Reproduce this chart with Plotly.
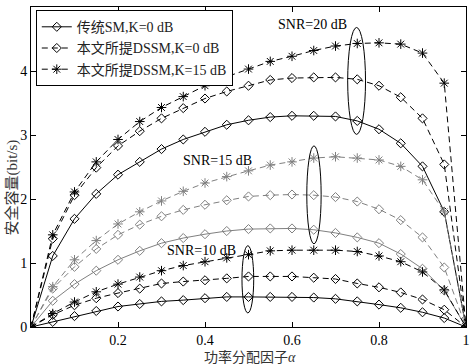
import plotly.graph_objects as go

alpha = [0, 0.05, 0.1, 0.15, 0.2, 0.25, 0.3, 0.35, 0.4, 0.45, 0.5,
         0.55, 0.6, 0.65, 0.7, 0.75, 0.8, 0.85, 0.9, 0.95, 1.0]

sm10 = [0, 0.08, 0.17, 0.25, 0.32, 0.36, 0.40, 0.42, 0.45, 0.47, 0.47,
        0.47, 0.47, 0.46, 0.44, 0.40, 0.35, 0.30, 0.23, 0.14, 0]
dssm10_k0 = [0, 0.19, 0.34, 0.45, 0.53, 0.60, 0.68, 0.71, 0.73, 0.76, 0.79,
             0.79, 0.79, 0.77, 0.75, 0.68, 0.62, 0.54, 0.43, 0.27, 0]
dssm10_k15 = [0, 0.21, 0.39, 0.55, 0.67, 0.78, 0.88, 0.96, 1.02, 1.08, 1.13,
              1.19, 1.20, 1.20, 1.20, 1.18, 1.11, 1.02, 0.86, 0.58, 0]

sm15 = [0, 0.41, 0.67, 0.88, 1.05, 1.19, 1.31, 1.39, 1.45, 1.50, 1.53,
        1.54, 1.54, 1.52, 1.47, 1.40, 1.31, 1.14, 0.91, 0.57, 0]
dssm15_k0 = [0, 0.60, 0.94, 1.22, 1.44, 1.60, 1.73, 1.83, 1.91, 1.98, 2.04,
             2.06, 2.07, 2.06, 2.03, 1.96, 1.84, 1.67, 1.40, 0.93, 0]
dssm15_k15 = [0, 0.63, 1.05, 1.35, 1.61, 1.80, 1.97, 2.12, 2.25, 2.35, 2.44,
              2.53, 2.58, 2.64, 2.66, 2.64, 2.61, 2.51, 2.30, 1.80, 0]

sm20 = [0, 1.11, 1.69, 2.08, 2.38, 2.58, 2.78, 2.93, 3.05, 3.16, 3.23,
        3.28, 3.30, 3.30, 3.29, 3.22, 3.09, 2.87, 2.51, 1.80, 0]
dssm20_k0 = [0, 1.38, 2.06, 2.49, 2.83, 3.06, 3.26, 3.42, 3.57, 3.68, 3.77,
             3.86, 3.89, 3.90, 3.90, 3.87, 3.77, 3.59, 3.26, 2.54, 0]
dssm20_k15 = [0, 1.44, 2.11, 2.58, 2.93, 3.21, 3.43, 3.60, 3.77, 3.91, 4.03,
              4.15, 4.23, 4.32, 4.39, 4.43, 4.44, 4.42, 4.28, 3.81, 0]

legend_names = ["传统SM,K=0 dB", "本文所提DSSM,K=0 dB", "本文所提DSSM,K=15 dB"]
x_ticks = [0.2, 0.4, 0.6, 0.8, 1]
x_tick_labels = ["0.2", "0.4", "0.6", "0.8", "1"]
y_ticks = [0, 1, 2, 3, 4, 5]

snr_labels = ["SNR=20 dB", "SNR=15 dB", "SNR=10 dB"]
snr_label_x = [0.646, 0.429, 0.392]
snr_label_y = [4.72, 2.60, 1.20]
ell_x0 = [0.728, 0.634, 0.485]
ell_x1 = [0.769, 0.667, 0.512]
ell_y0 = [3.01, 1.30, 0.22]
ell_y1 = [4.68, 2.83, 1.27]

FONT = "Liberation Serif, Times New Roman, Noto Sans CJK SC, serif"
BLACK = "#000000"
GRAY = "#808080"

fig = go.Figure()

groups = [
    (sm20, dssm20_k0, dssm20_k15, BLACK, True),
    (sm15, dssm15_k0, dssm15_k15, GRAY, False),
    (sm10, dssm10_k0, dssm10_k15, BLACK, False),
]
for sm, k0, k15, col, show in groups:
    fig.add_trace(go.Scatter(
        x=alpha, y=sm, mode="lines+markers", name=legend_names[0],
        showlegend=show, legendrank=1,
        line=dict(color=col, width=1),
        marker=dict(symbol="diamond-open", size=7, color=col,
                    line=dict(width=1, color=col))))
    fig.add_trace(go.Scatter(
        x=alpha, y=k0, mode="lines+markers", name=legend_names[1],
        showlegend=show, legendrank=2,
        line=dict(color=col, width=1, dash="6px,4px"),
        marker=dict(symbol="diamond-open", size=7, color=col,
                    line=dict(width=1, color=col))))
    fig.add_trace(go.Scatter(
        x=alpha, y=k15, mode="lines+markers", name=legend_names[2],
        showlegend=show, legendrank=3,
        line=dict(color=col, width=1, dash="6px,4px"),
        marker=dict(symbol="asterisk-open", size=8, color=col,
                    line=dict(width=1, color=col))))

for i in range(3):
    fig.add_shape(type="circle", xref="x", yref="y",
                  x0=ell_x0[i], x1=ell_x1[i], y0=ell_y0[i], y1=ell_y1[i],
                  line=dict(color=BLACK, width=1))
    fig.add_annotation(x=snr_label_x[i], y=snr_label_y[i], text=snr_labels[i],
                       showarrow=False, xanchor="center", yanchor="middle",
                       font=dict(family=FONT, size=14, color=BLACK))

fig.add_annotation(xref="paper", yref="paper", x=0, y=0.436, xshift=-19,
                   text="安全容量(bit/s)", textangle=-90, showarrow=False,
                   xanchor="center", yanchor="middle",
                   font=dict(family=FONT, size=15, color="#333333"))
fig.add_annotation(xref="paper", yref="paper", x=0.504, y=0, yshift=-30,
                   text="功率分配因子<i>α</i>", showarrow=False,
                   xanchor="center", yanchor="middle",
                   font=dict(family=FONT, size=14, color="#333333"))

axis_common = dict(showline=True, linecolor=BLACK, linewidth=1, mirror="ticks",
                   ticks="inside", ticklen=5, tickcolor=BLACK, showgrid=False,
                   zeroline=False,
                   tickfont=dict(family=FONT, size=14, color=BLACK))

fig.update_layout(
    width=474, height=364,
    margin=dict(l=31, r=4, t=7, b=37),
    paper_bgcolor="white", plot_bgcolor="white",
    showlegend=True,
    legend=dict(x=0.011, y=0.99, xanchor="left", yanchor="top",
                bgcolor="white", bordercolor=BLACK, borderwidth=1,
                font=dict(family=FONT, size=14, color="#222222"),
                tracegroupgap=0, itemwidth=30),
    xaxis=dict(range=[0, 1], tickvals=x_ticks, ticktext=x_tick_labels, **axis_common),
    yaxis=dict(range=[0, 5], tickvals=y_ticks, **axis_common),
)

fig.write_html("out.html", config={"displayModeBar": False},
               post_script="document.body.style.margin='0';document.body.style.overflow='hidden';")
